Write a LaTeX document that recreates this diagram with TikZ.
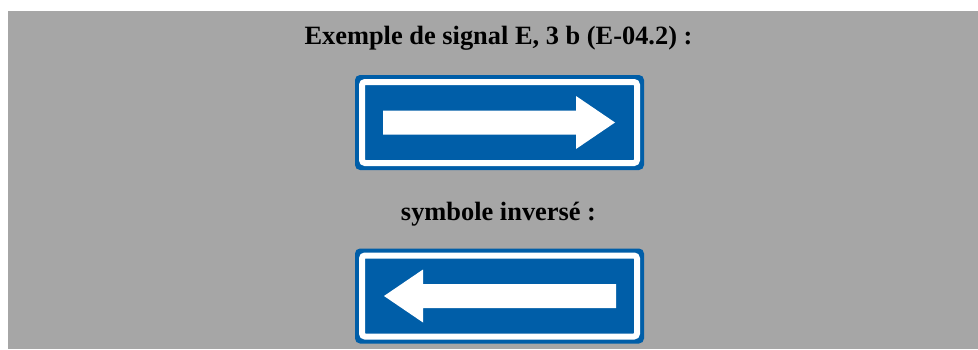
\documentclass[tikz,border=0pt]{standalone}
\usepackage{fontspec}
\setmainfont{Liberation Serif}
\usepackage{xcolor}
\usepackage{tikz}
\definecolor{panelgray}{RGB}{166,166,166}
\definecolor{signblue}{RGB}{0,94,168}

\begin{document}
\begin{tikzpicture}[x=1pt, y=1pt,
    caption/.style={font=\fontsize{26.4}{30}\selectfont\bfseries, text=black,
                    anchor=base, inner sep=0pt},
    sign/.style={fill=signblue, rounded corners=5pt, inner sep=0pt,
                 minimum width=289pt, minimum height=95pt},
    band/.style={draw=white, line width=6pt, rounded corners=3pt, inner sep=0pt,
                 minimum width=275pt, minimum height=81pt},
    arrowfill/.style={fill=white}
]
\useasboundingbox (0,0) rectangle (978,349);
\fill[panelgray] (8,0) rectangle (978,338);

\node[caption] (title) at (498.5,304) {Exemple de signal E, 3 b (E-04.2) :};
\node[caption] (inv) at (498.5,129) {symbole inversé :};

% signal E, 3 b
\node[sign] (signA) at (499.5,226.5) {};
\node[band] (bandA) at (signA.center) {};
\begin{scope}[shift={(signA.center)}]
  \fill[arrowfill] (-116.5,-12) -- (76.5,-12) -- (76.5,-26.5) -- (115.5,0)
        -- (76.5,26.5) -- (76.5,12) -- (-116.5,12) -- cycle;
\end{scope}

% symbole inverse
\node[sign] (signB) at (499.5,53) {};
\node[band] (bandB) at (signB.center) {};
\begin{scope}[shift={(signB.center)}, xscale=-1]
  \fill[arrowfill] (-116.5,-12) -- (76.5,-12) -- (76.5,-26.5) -- (115.5,0)
        -- (76.5,26.5) -- (76.5,12) -- (-116.5,12) -- cycle;
\end{scope}
\end{tikzpicture}
\end{document}
